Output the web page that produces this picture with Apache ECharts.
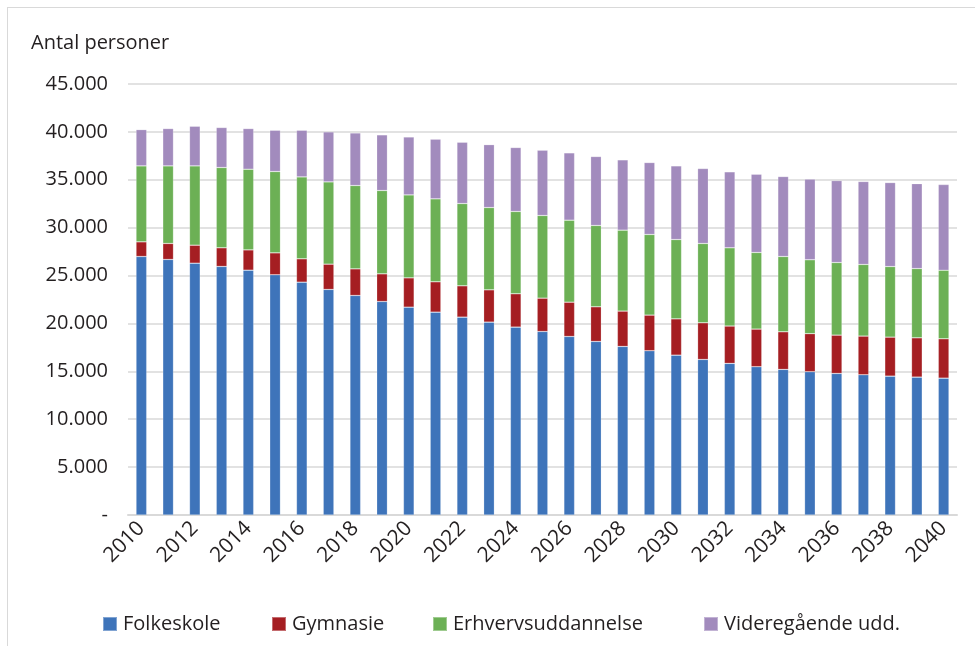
<!DOCTYPE html>
<html><head><meta charset="utf-8">
<script src="https://cdn.jsdelivr.net/npm/echarts@6/dist/echarts.min.js"></script>
<style>
html,body{margin:0;padding:0;background:#fff;overflow:hidden;}
#frame{position:absolute;left:7px;top:7px;width:1200px;height:800px;border-left:1.5px solid #d9d9d9;border-top:1.5px solid #d9d9d9;}
#c{position:absolute;left:0;top:0;width:975px;height:646px;}
</style></head>
<body><div id="frame"></div><div id="c"></div>
<script>
const years = ['2010','2011','2012','2013','2014','2015','2016','2017','2018','2019','2020','2021','2022','2023','2024','2025','2026','2027','2028','2029','2030','2031','2032','2033','2034','2035','2036','2037','2038','2039','2040'];
const folkeskole = [26990,26680,26290,25950,25560,25080,24310,23550,22920,22290,21700,21180,20660,20140,19620,19160,18640,18120,17600,17150,16690,16240,15830,15480,15200,14960,14780,14640,14500,14400,14290];
const gymnasie = [1530,1670,1880,1950,2120,2290,2440,2640,2780,2890,3060,3170,3270,3370,3480,3480,3580,3620,3690,3720,3790,3830,3900,3930,3930,3970,4000,4040,4070,4100,4110];
const erhverv = [7930,8100,8280,8380,8420,8490,8550,8590,8700,8700,8660,8660,8590,8590,8590,8630,8560,8490,8450,8420,8280,8280,8170,8000,7860,7720,7580,7480,7370,7230,7160];
const videre = [3790,3900,4140,4180,4250,4310,4870,5220,5490,5810,6050,6230,6400,6570,6680,6820,7030,7200,7340,7510,7690,7830,7930,8170,8350,8420,8560,8660,8770,8870,8940];
const seriesNames = ['Folkeskole','Gymnasie','Erhvervsuddannelse','Videregående udd.'];
const colors = ['#3e74ba','#a51e22','#6cb055','#a28bbd'];
const yTitle = 'Antal personer';

const font = "'Open Sans', sans-serif";
const txt = '#231f20';
const chart = echarts.init(document.getElementById('c'));
const mk = (i, data) => ({
  name: seriesNames[i], type: 'bar', stack: 'total', data: data, barWidth: '40%',
  itemStyle: {color: colors[i], borderColor: 'rgba(255,255,255,0.35)', borderWidth: 0.6},
  animation: false
});
const legendPos = [97, 266, 427, 698];
chart.setOption({
  animation: false,
  textStyle: {fontFamily: font},
  graphic: [{type: 'text', left: 31, top: 33, style: {text: yTitle, font: "20px 'Open Sans', sans-serif", fill: txt}}],
  grid: {left: 128, right: 18, top: 84, bottom: 131},
  legend: seriesNames.map((n, i) => ({
    data: [n], left: legendPos[i], top: 609, itemWidth: 14, itemHeight: 14, itemGap: 0,
    icon: 'rect', textStyle: {fontSize: 20, color: txt, fontFamily: font, padding: [0,0,0,1]}
  })),
  xAxis: {
    type: 'category', data: years,
    axisTick: {show: false},
    axisLine: {lineStyle: {color: '#d9d9d9', width: 2}},
    axisLabel: {interval: 1, rotate: 45, fontSize: 21, color: txt, fontFamily: font, margin: 10}
  },
  yAxis: {
    type: 'value', min: 0, max: 45000, interval: 5000,
    axisLine: {show: false}, axisTick: {show: false},
    splitLine: {lineStyle: {color: '#d9d9d9', width: 1.5}},
    axisLabel: {fontSize: 20, color: txt, fontFamily: font, margin: 20,
      formatter: v => v === 0 ? '-' : v.toLocaleString('en-US').replace(/,/g, '.')}
  },
  series: [mk(0, folkeskole), mk(1, gymnasie), mk(2, erhverv), mk(3, videre)]
});
</script></body></html>
